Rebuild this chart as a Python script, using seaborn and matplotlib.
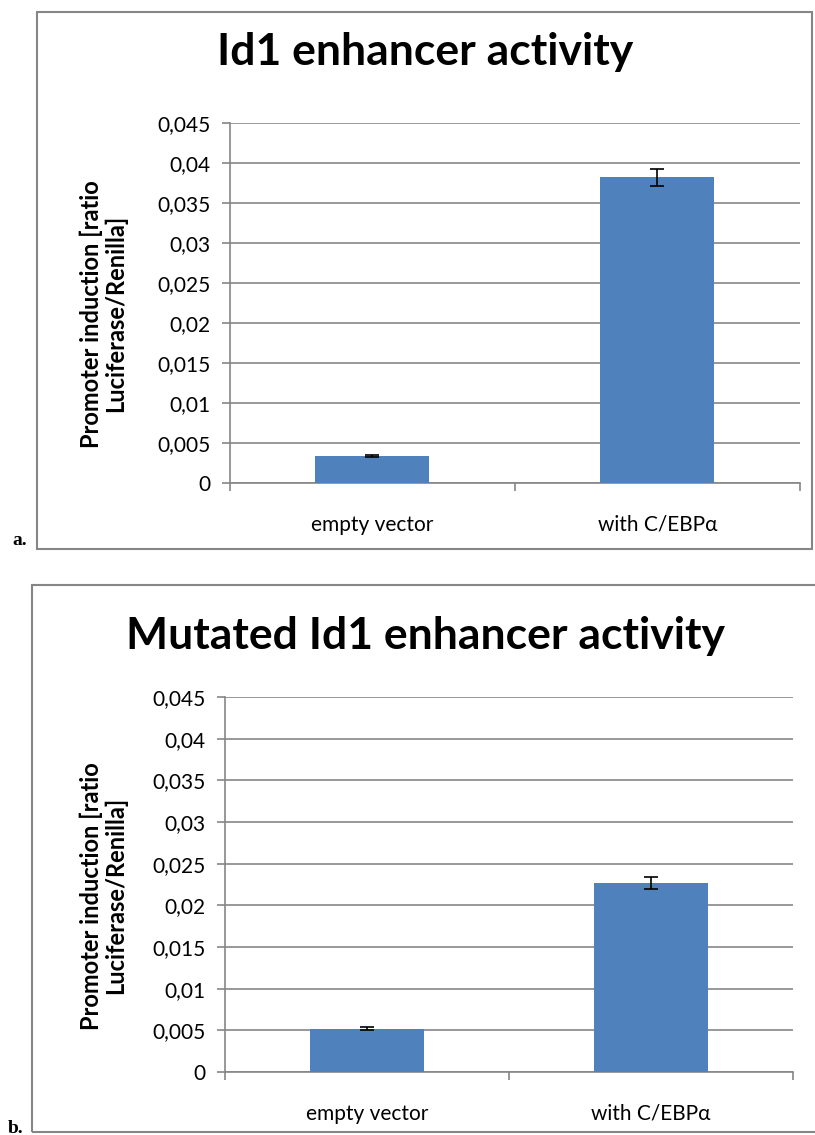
import numpy as np
import pandas as pd
import seaborn as sns
import matplotlib.pyplot as plt
from matplotlib.patches import Rectangle
from matplotlib.ticker import FuncFormatter, FixedLocator

# values
categories = ["empty vector", "with C/EBP\u03b1"]
wt_values = [0.0034, 0.0382]
wt_errors = [0.0001, 0.0011]
mut_values = [0.0052, 0.0227]
mut_errors = [0.0002, 0.0007]
titles = ["Id1 enhancer activity", "Mutated Id1 enhancer activity"]
panel_tags = ["a.", "b."]
yticks = [0, 0.005, 0.01, 0.015, 0.02, 0.025, 0.03, 0.035, 0.04, 0.045]
ylabel = "Promoter induction [ratio\nLuciferase/Renilla]"

sns.set_theme(style="white")
plt.rcParams["font.family"] = ["Lato", "DejaVu Sans"]
plt.rcParams["text.color"] = "black"
plt.rcParams["axes.labelcolor"] = "black"
plt.rcParams["xtick.color"] = "black"
plt.rcParams["ytick.color"] = "black"

W, H = 815, 1135
fig = plt.figure(figsize=(W / 100, H / 100), dpi=100)
grey = "#868686"
blue = "#4F81BD"


def px(x0, y0, x1, y1):
    # pixel box -> figure fraction [left, bottom, width, height]
    return [x0 / W, 1 - y1 / H, (x1 - x0) / W, (y1 - y0) / H]


def comma(v, pos):
    return f"{v:g}".replace(".", ",")


panels = [
    dict(vals=wt_values, errs=wt_errors, ax=(230, 123, 800, 483),
         box=(37, 12, 812, 549), title_y=52, tag=(12, 549)),
    dict(vals=mut_values, errs=mut_errors, ax=(225, 697, 793, 1072),
         box=(32, 585, 830, 1132), title_y=636, tag=(8, 1137)),
]

for i, p in enumerate(panels):
    bx0, by0, bx1, by1 = p["box"]
    fig.patches.append(Rectangle((bx0 / W, 1 - by1 / H), (bx1 - bx0) / W, (by1 - by0) / H,
                                 transform=fig.transFigure, fill=False,
                                 edgecolor=grey, lw=1.5))
    fig.text(p["tag"][0] / W, 1 - p["tag"][1] / H, panel_tags[i],
             family=["Liberation Serif", "DejaVu Serif"], weight="bold",
             fontsize=14, va="bottom", ha="left")
    fig.text(425 / W, 1 - p["title_y"] / H, titles[i], ha="center",
             va="center", fontsize=32, weight="bold")

    ax0, ay0, ax1, ay1 = p["ax"]
    ax = fig.add_axes(px(*p["ax"]))
    df = pd.DataFrame({"group": categories, "ratio": p["vals"]})
    sns.barplot(data=df, x="group", y="ratio", color=blue, width=0.4,
                saturation=1, linewidth=0, ax=ax, zorder=3)
    ax.errorbar(np.arange(len(categories)), p["vals"], yerr=p["errs"],
                fmt="none", ecolor="black", elinewidth=1.2, capsize=5,
                capthick=1.2, zorder=4)
    ax.set_xlim(-0.5, 1.5)
    ax.set_ylim(0, 0.045)
    ax.yaxis.set_major_locator(FixedLocator(yticks))
    ax.yaxis.set_major_formatter(FuncFormatter(comma))
    ax.grid(axis="y", color=grey, lw=1.2, zorder=0)
    ax.set_axisbelow(True)
    for s in ["top", "right"]:
        ax.spines[s].set_visible(False)
    for s in ["left", "bottom"]:
        ax.spines[s].set_color(grey)
        ax.spines[s].set_linewidth(1.2)
    ax.tick_params(axis="y", left=True, length=6, width=1.2, color=grey,
                   labelsize=15, pad=8)
    ax.tick_params(axis="x", which="major", bottom=False, labelsize=15, pad=17)
    ax.set_xticks([-0.5, 0.5, 1.5], minor=True)
    ax.tick_params(axis="x", which="minor", bottom=True, length=6, width=1.2,
                   color=grey)
    ax.set_xlabel("")
    ax.set_ylabel(ylabel, fontsize=17, weight="bold", linespacing=1.05)
    w = ax1 - ax0
    h = ay1 - ay0
    ax.yaxis.set_label_coords((127 - ax0) / w, 0.47)

fig.savefig("out.png", dpi=100)
